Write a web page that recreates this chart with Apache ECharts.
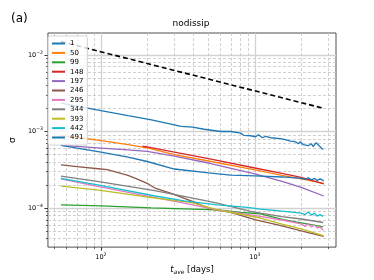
<!DOCTYPE html>
<html><head><meta charset="utf-8">
<script src="https://cdn.jsdelivr.net/npm/echarts@6/dist/echarts.min.js"></script>
<style>html,body{margin:0;padding:0;background:#fff}#c{width:374px;height:280px}</style>
</head><body><div id="c"></div><script>
// ---- data (t in days, sigma) ----
const names = ['1','50','99','148','197','246','295','344','393','442','491'];
const colors = ['#1f77b4','#ff7f0e','#2ca02c','#d62728','#9467bd','#8c564b','#e377c2','#7f7f7f','#bcbd22','#17becf','#1f77b4'];

const t1 = [55,100,150,213,332,394,469,601,697,809,849,938,1010,1057,1121,1172,1263,1466,1578,1700,1831,1914,1972,2062,2122,2222,2324,2393,2501,2577,2655,2775];
const s1 = [2.35e-3,1.87e-3,1.61e-3,1.42e-3,1.17e-3,1.14e-3,1.07e-3,1.0e-3,1.0e-3,9.53e-4,8.88e-4,8.80e-4,8.54e-4,9.06e-4,8.29e-4,8.67e-4,8.29e-4,8.05e-4,7.82e-4,7.47e-4,7.36e-4,6.93e-4,7.36e-4,6.73e-4,7.14e-4,6.53e-4,6.93e-4,6.34e-4,7.14e-4,6.73e-4,6.34e-4,5.8e-4];

const t50 = [55,70,100,150,200,300,500,1000,1500,2000,2800];
const s50 = [8.80e-4,8.41e-4,7.58e-4,6.73e-4,6.1e-4,5.0e-4,4.12e-4,3.15e-4,2.67e-4,2.41e-4,2.11e-4];

const t99 = [55,101,212,571,809,1088,1531,2000,2780];
const s99 = [1.10e-4,1.07e-4,1.01e-4,9.5e-5,8.8e-5,8.44e-5,7.06e-5,6.4e-5,5.68e-5];

const t148 = [186,200,300,500,1000,1500,2000,2800];
const s148 = [6.43e-4,6.28e-4,5.38e-4,4.43e-4,3.34e-4,2.84e-4,2.52e-4,2.07e-4];

const t197 = [55,70,100,150,200,300,500,1000,1500,2000,2800];
const s197 = [6.59e-4,6.38e-4,6.08e-4,5.75e-4,5.5e-4,4.78e-4,3.88e-4,2.79e-4,2.24e-4,1.87e-4,1.44e-4];

const t246 = [55,70,100,110,150,168,200,225,286,385,518,697,1000,1500,2000,2800];
const s246 = [3.66e-4,3.49e-4,3.24e-4,3.19e-4,2.67e-4,2.44e-4,2.11e-4,1.82e-4,1.56e-4,1.24e-4,9.7e-5,8.8e-5,7.1e-5,5.85e-5,5.04e-5,4.28e-5];

const t295 = [55,97,225,347,571,1088,1500,2000,2122,2222,2324,2446,2535,2655,2780];
const s295 = [2.41e-4,1.91e-4,1.37e-4,1.16e-4,9.5e-5,7.81e-5,7.0e-5,6.21e-5,5.77e-5,6.31e-5,5.68e-5,6.03e-5,5.51e-5,5.68e-5,5.12e-5];

const t344 = [55,97,219,347,571,938,1088,1500,2000,2780];
const s344 = [2.62e-4,2.22e-4,1.71e-4,1.42e-4,1.16e-4,9.06e-5,8.62e-5,7.76e-5,7.21e-5,6.49e-5];

const t393 = [55,97,225,385,571,1088,1500,2000,2780];
const s393 = [1.94e-4,1.72e-4,1.35e-4,1.19e-4,9.5e-5,7.43e-5,6.2e-5,5.35e-5,4.38e-5];

const t442 = [55,97,225,347,571,893,1088,1500,2000,2122,2222,2324,2446,2535,2655,2780];
const s442 = [2.44e-4,2.0e-4,1.44e-4,1.24e-4,1.10e-4,1.02e-4,9.7e-5,9.14e-5,8.61e-5,8.24e-5,8.88e-5,8.11e-5,8.61e-5,7.87e-5,8.24e-5,7.81e-5];

const t491 = [55,70,100,150,200,300,500,697,1000,1500,2000,2122,2222,2324,2446,2535,2655,2800];
const s491 = [6.59e-4,6.06e-4,5.37e-4,4.64e-4,4.06e-4,3.24e-4,2.88e-4,2.70e-4,2.63e-4,2.55e-4,2.44e-4,2.37e-4,2.48e-4,2.34e-4,2.44e-4,2.30e-4,2.41e-4,2.27e-4];

const dashT = [55, 2786];
const dashS = [0.0149, 0.00201];

const xMajor = [100, 1000];
const xMinor = [50,60,70,80,90,200,300,400,500,600,700,800,900,2000,3000];
const yMajor = [1e-4, 1e-3, 1e-2];
const yMinor = [4e-5,5e-5,6e-5,7e-5,8e-5,9e-5,2e-4,3e-4,4e-4,5e-4,6e-4,7e-4,8e-4,9e-4,2e-3,3e-3,4e-3,5e-3,6e-3,7e-3,8e-3,9e-3];
const xRange = [45.3, 3365];
const yRange = [3.1e-5, 0.0193];

// ---- build ----
const L = Math.log10;
const tList = [t1,t50,t99,t148,t197,t246,t295,t344,t393,t442,t491];
const sList = [s1,s50,s99,s148,s197,s246,s295,s344,s393,s442,s491];
const FF = 'DejaVu Sans';
const pow = v => { const n = Math.round(v); return '{b|10}{s|' + String(n).replace('-', '\u2212') + '}'; };
const rich = {
  b: {fontSize: 6.5, fontFamily: FF, color: '#000'},
  s: {fontSize: 4.6, fontFamily: FF, color: '#000', padding: [0,0,5,0]}
};

const series = [];
tList.forEach((ts, i) => {
  series.push({
    name: names[i], type: 'line', showSymbol: false, symbol: 'none',
    data: ts.map((t, k) => [L(t), L(sList[i][k])]),
    lineStyle: {color: colors[i], width: 1.3},
    itemStyle: {color: colors[i]},
    animation: false, z: 3
  });
});
series.push({
  name: 'ref', type: 'line', showSymbol: false, symbol: 'none',
  data: dashT.map((t, k) => [L(t), L(dashS[k])]),
  lineStyle: {color: '#000', width: 1.6, type: [5, 3]},
  itemStyle: {color: '#000'}, animation: false, z: 3
});

const xMin = L(xRange[0]), xMax = L(xRange[1]);
const yMin = L(yRange[0]), yMax = L(yRange[1]);

const option = {
  animation: false,
  backgroundColor: '#fff',
  title: [
    {text: 'nodissip', left: 191, top: 19, textAlign: 'center', padding: 0,
     textStyle: {fontSize: 9, fontWeight: 'normal', fontFamily: FF, color: '#000'}},
    {text: '(a)', left: 11, top: 13, padding: 0,
     textStyle: {fontSize: 12, fontWeight: 'normal', fontFamily: FF, color: '#000'}}
  ],
  grid: {left: 46, right: 38, top: 33, bottom: 31, show: true, borderColor: '#222', borderWidth: 0.8, backgroundColor: 'transparent'},
  legend: {
    orient: 'vertical', left: 48, top: 36, itemWidth: 13, itemHeight: 2, itemGap: 0.4,
    icon: 'rect', padding: [3,4,3,4], backgroundColor: 'rgba(255,255,255,0.8)',
    borderColor: '#ccc', borderWidth: 0.8, borderRadius: 2,
    textStyle: {fontSize: 7, fontFamily: FF, color: '#000', lineHeight: 9},
    data: names.map(n => ({name: n}))
  },
  xAxis: [
    {type: 'value', min: xMin, max: xMax, position: 'bottom',
     axisLine: {show: false},
     axisTick: {show: true, customValues: xMajor.map(L), length: 3.5, lineStyle: {color: '#000', width: 0.8}},
     axisLabel: {customValues: xMajor.map(L), formatter: pow, rich: rich, margin: 5},
     splitLine: {show: true, lineStyle: {color: '#d2d2d2', width: 1.3}},
     name: '{i|t}{sub|ave}{n| [days]}', nameLocation: 'middle', nameGap: 14,
     nameTextStyle: {rich: {
       i: {fontSize: 8.5, fontStyle: 'italic', fontFamily: FF, color: '#000'},
       sub: {fontSize: 6, fontStyle: 'italic', fontFamily: FF, color: '#000', padding: [4,0,0,0]},
       n: {fontSize: 8.5, fontFamily: FF, color: '#000'}
     }}},
    {type: 'value', min: xMin, max: xMax, position: 'bottom',
     axisLine: {show: false},
     axisTick: {show: true, customValues: xMinor.map(L), length: 2, lineStyle: {color: '#000', width: 0.6}},
     axisLabel: {show: false},
     splitLine: {show: true, lineStyle: {color: '#c4c4c4', width: 0.8, type: [3, 2]}}}
  ],
  yAxis: [
    {type: 'value', min: yMin, max: yMax, position: 'left',
     axisLine: {show: false},
     axisTick: {show: true, customValues: yMajor.map(L), length: 3.5, lineStyle: {color: '#000', width: 0.8}},
     axisLabel: {customValues: yMajor.map(L), formatter: pow, rich: rich, margin: 5},
     splitLine: {show: true, lineStyle: {color: '#d2d2d2', width: 1.3}},
     name: 'σ', nameLocation: 'middle', nameGap: 24, nameRotate: 90,
     nameTextStyle: {fontSize: 9, fontFamily: FF, color: '#000'}},
    {type: 'value', min: yMin, max: yMax, position: 'left',
     axisLine: {show: false},
     axisTick: {show: true, customValues: yMinor.map(L), length: 2, lineStyle: {color: '#000', width: 0.6}},
     axisLabel: {show: false},
     splitLine: {show: true, lineStyle: {color: '#c4c4c4', width: 0.8, type: [3, 2]}}}
  ],
  series: series
};
const chart = echarts.init(document.getElementById('c'), null, {renderer: 'canvas'});
chart.setOption(option);
</script></body></html>
